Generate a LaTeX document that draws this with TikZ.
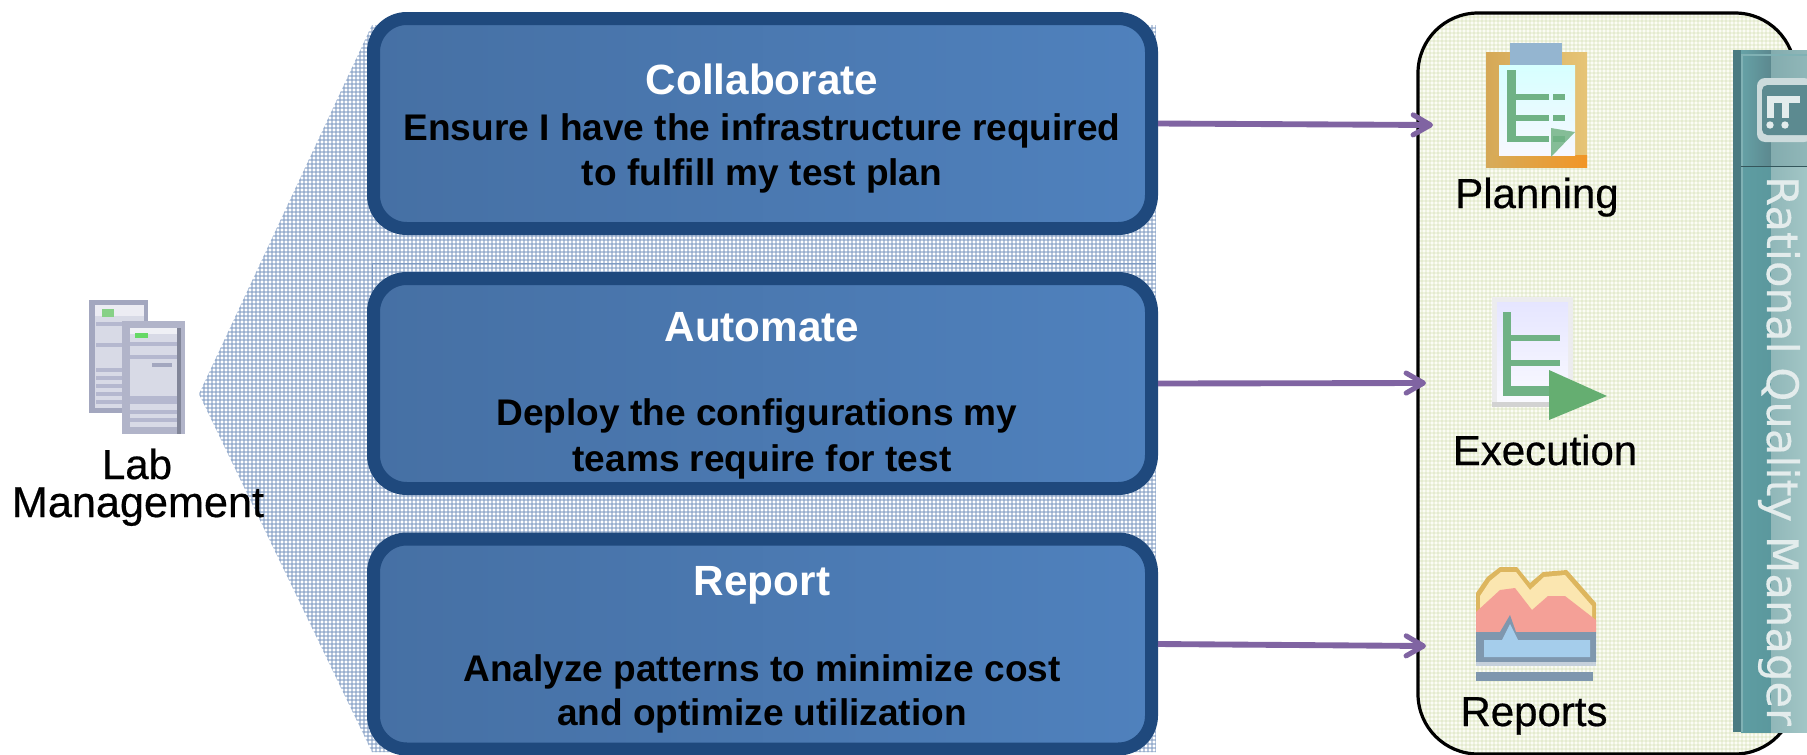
\documentclass[tikz,border=0pt]{standalone}
\usepackage{fontspec}
\setmainfont{Liberation Sans}
\newfontfamily\pixelfont[FakeBold=0.5]{Liberation Sans}
\newfontfamily\barfont[FakeBold=0.3]{DejaVu Sans}
\usetikzlibrary{arrows.meta}
\definecolor{boxedge}{HTML}{1F497D}
\definecolor{boxleft}{HTML}{4670A4}
\definecolor{boxright}{HTML}{4F81BD}
\definecolor{linkpurple}{HTML}{8064A2}
\definecolor{hatchblue}{HTML}{7F9BC2}
\definecolor{hatchgreen}{HTML}{C9D8A0}
\definecolor{panelbase}{HTML}{FBFCF5}
\definecolor{barDark}{HTML}{4A7B82}
\definecolor{barMid}{HTML}{5E9DA2}
\definecolor{barLight}{HTML}{A2C6C6}
\definecolor{barGlyph}{HTML}{E3ECEC}
\definecolor{treeGreen}{HTML}{70B285}
\definecolor{srvFrame}{HTML}{A3A7BF}
\definecolor{srvFace}{HTML}{D8DAE6}
\definecolor{srvStripe}{HTML}{B5B8CF}
\definecolor{chartGold}{HTML}{DDB65E}
\definecolor{chartCream}{HTML}{FBE6B0}
\definecolor{chartPink}{HTML}{F4A097}
\definecolor{chartRim}{HTML}{7F97AE}
\definecolor{chartBlue}{HTML}{A5CDEB}
\tikzset{every picture/.style={line width=0.75pt}}
\tikzset{
  taskbox/.style={draw=boxedge,line width=9.75pt,left color=boxleft,right color=boxright,rounded corners=25pt,minimum width=583.5pt,minimum height=157.5pt,inner sep=0pt},
  titletext/.style={anchor=base,inner sep=0pt,text=white,font=\fontsize{31.7pt}{36pt}\selectfont\bfseries},
  bodytext/.style={anchor=base,inner sep=0pt,text=black,font=\fontsize{27.8pt}{32pt}\selectfont\bfseries},
  icontext/.style={anchor=base,inner sep=0pt,text=black,font=\fontsize{31.5pt}{36pt}\selectfont\pixelfont},
  link/.style={draw=linkpurple,line width=4.4pt,-{Straight Barb[length=13pt,width=15pt,line width=3.8pt,round]}}
}

\begin{document}
\begin{tikzpicture}[x=0.75pt,y=0.75pt,yscale=-1,xscale=1]
\useasboundingbox (0,0) rectangle (1807,754);

%Shape: hatched fan behind the boxes
\begin{scope}
\clip (199,394) -- (372,25) -- (1156,25) -- (1156,752) -- (372,752) -- cycle;
\foreach \hx in {200,204,...,1156} \draw[hatchblue,opacity=0.55,line width=0.8pt] (\hx,20) -- (\hx,754);
\foreach \hy in {24,28,...,752} \draw[hatchblue,opacity=0.55,line width=0.8pt] (195,\hy) -- (1156,\hy);
\draw[hatchblue] (372,263) -- (1156,263);
\draw[hatchblue] (372,263) -- (372,540);
\end{scope}

%Shape: three task boxes
\draw (762.5,123.5) node [taskbox] (collabBox) {};
\draw (762.5,383.5) node [taskbox] (automateBox) {};
\draw (762.5,644) node [taskbox] (reportBox) {};

%Shape: tools panel
\begin{scope}
\clip[rounded corners=45pt] (1418,13) rectangle (1795,754);
\fill[panelbase] (1418,13) rectangle (1795,754);
\foreach \hx in {1418,1422,...,1795} \draw[hatchgreen,opacity=0.25,line width=0.8pt] (\hx,13) -- (\hx,754);
\foreach \hy in {13,17,...,754} \draw[hatchgreen,opacity=0.25,line width=0.8pt] (1418,\hy) -- (1795,\hy);
\end{scope}
\draw (1606.5,383.5) node [draw=black,line width=2.4pt,rounded corners=45pt,minimum width=377*0.75pt,minimum height=741*0.75pt,inner sep=0pt] (toolPanel) {};

%Shape: teal side bar
\fill[left color=barMid,right color=barMid!85!barDark] (1741,50) rectangle (1771,732);
\fill[left color=barLight!80!barDark,right color=barLight] (1771,50) rectangle (1807,732);
\fill[left color=barMid!95!white,right color=barDark!90!white] (1741,50) rectangle (1771,166);
\fill[left color=barLight!65!barDark,right color=barLight!80!barDark] (1771,50) rectangle (1807,166);
\fill[barDark] (1733,50) rectangle (1741,732);
\fill[barLight!50!barMid] (1741,54) rectangle (1743,732);
\fill[barLight!50!barMid] (1741,54) rectangle (1807,56);
\draw[barDark!70!black] (1741,166) -- (1807,166);
\fill[barGlyph!85!barDark,rounded corners=6pt] (1757,78) rectangle (1812,142);
\fill[barDark!80!barLight,rounded corners=4pt] (1762,85) rectangle (1812,135);
\fill[barGlyph] (1767,96) rectangle (1800,103);
\fill[barGlyph] (1767,103) rectangle (1774,118);
\fill[barGlyph] (1782,103) rectangle (1789,118);
\fill[barGlyph] (1770,125) circle (3.7);
\fill[barGlyph] (1785,125) circle (3.7);

%Shape: lab servers
\fill[srvFrame] (89,300) rectangle (148,413);
\fill[srvFace] (95,305) rectangle (144,408);
\fill[srvFace!50!white] (95,305) rectangle (144,316);
\fill[green!45!gray!65!white] (102,309) rectangle (114,317);
\foreach \sy in {322,343,368,376,384,392,400} \fill[srvStripe] (96,\sy) rectangle (142,\sy+4);
\fill[srvFrame!85!white] (122,321) rectangle (185,434);
\fill[srvFace] (130,328) rectangle (177,427);
\fill[srvFace!40!white] (130,328) rectangle (177,334);
\fill[green!60!gray!75!white] (135,333) rectangle (148,338);
\foreach \sy in {342,355,396,400,410,418} \fill[srvStripe] (130,\sy) rectangle (177,\sy+4);
\fill[srvFrame] (152,363) rectangle (172,367);
\fill[srvFrame!80!black] (177,328) rectangle (181,434);

%Shape: planning icon
\fill[left color=chartGold!75!brown,right color=chartGold!70!chartCream] (1486,52) rectangle (1587,167);
\fill[left color=chartGold!80!brown,right color=orange!60!chartGold] (1490,155) rectangle (1587,167);
\fill[chartBlue!55!chartRim] (1510,43) rectangle (1562,65);
\fill[top color=cyan!16!white,bottom color=blue!3!white] (1499,65) rectangle (1575,155);
\fill[treeGreen!85!white] (1551,128) -- (1575,132) -- (1551,157) -- cycle;
\fill[treeGreen] (1507,70) rectangle (1516,142);
\foreach \sy in {94,115,136} {
  \fill[treeGreen] (1516,\sy) rectangle (1549,\sy+6);
  \fill[treeGreen] (1553,\sy) rectangle (1565,\sy+6);
}

%Shape: execution icon
\fill[blue!4!gray!14!white] (1492,297) rectangle (1573,407);
\fill[top color=blue!10!white,bottom color=blue!2!white] (1497,302) rectangle (1568,402);
\fill[treeGreen] (1503,312) rectangle (1511,396);
\fill[treeGreen] (1511,335) rectangle (1560,341);
\fill[treeGreen] (1511,360) rectangle (1560,366);
\fill[treeGreen] (1511,386) rectangle (1552,396);
\fill[gray!35!white] (1492,402) rectangle (1550,407);
\fill[treeGreen!80!green!70!gray] (1549,370) -- (1607,396) -- (1549,420) -- cycle;

%Shape: reports icon
\fill[chartGold] (1476,593) -- (1487,577) -- (1500,567) -- (1517,567) -- (1530,583) -- (1543,572) -- (1567,570) -- (1596,603) -- (1596,632) -- (1476,632) -- cycle;
\fill[chartCream] (1480,596) -- (1490,581) -- (1501,572) -- (1516,572) -- (1530,590) -- (1544,577) -- (1565,575) -- (1592,606) -- (1592,632) -- (1480,632) -- cycle;
\fill[chartPink] (1476,612) -- (1500,590) -- (1515,588) -- (1532,610) -- (1548,596) -- (1565,596) -- (1596,620) -- (1596,632) -- (1476,632) -- cycle;
\fill[chartRim] (1476,632) -- (1476,662) -- (1596,662) -- (1596,632) -- (1516,632) -- (1510,615) -- (1500,632) -- cycle;
\fill[chartBlue] (1484,640) -- (1502,640) -- (1510,624) -- (1518,640) -- (1590,640) -- (1590,657) -- (1484,657) -- cycle;
\fill[chartRim!45!white] (1476,662) rectangle (1596,666);
\fill[chartRim] (1476,672) rectangle (1593,681);

% Text Node
\draw (762,94) node [titletext] (collabTitle) {Collaborate};
% Text Node
\draw (762,140) node [bodytext] (collabLineA) {Ensure I have the infrastructure required};
% Text Node
\draw (762,185) node [bodytext] (collabLineB) {to fulfill my test plan};
% Text Node
\draw (762,341) node [titletext] (automateTitle) {Automate};
% Text Node
\draw (757,425) node [bodytext] (automateLineA) {Deploy the configurations my};
% Text Node
\draw (762,471) node [bodytext] (automateLineB) {teams require for test};
% Text Node
\draw (762,595) node [titletext] (reportTitle) {Report};
% Text Node
\draw (762,681) node [bodytext] (reportLineA) {Analyze patterns to minimize cost};
% Text Node
\draw (762,725) node [bodytext] (reportLineB) {and optimize utilization};
% Text Node
\draw (137,479) node [icontext] (labLineA) {Lab};
% Text Node
\draw (138,517) node [icontext,font=\fontsize{32.4pt}{36pt}\selectfont\pixelfont] (labLineB) {Management};
% Text Node
\draw (1537,208) node [icontext] (planLabel) {Planning};
% Text Node
\draw (1545,465) node [icontext] (execLabel) {Execution};
% Text Node
\draw (1534,726) node [icontext] (reportsLabel) {Reports};
% Text Node
\draw (1767,451) node [rotate=-90,anchor=base,inner sep=0pt,text=barGlyph,font=\fontsize{32.5pt}{36pt}\selectfont\barfont] (rqmLabel) {Rational Quality Manager};

%Straight Lines
\coordinate (planTip) at (1433,125);
\coordinate (execTip) at (1426,383);
\coordinate (reportsTip) at (1426,646);
\draw [link] (collabBox.east) -- (planTip);
\draw [link] (automateBox.east) -- (execTip);
\draw [link] (reportBox.east) -- (reportsTip);

\end{tikzpicture}
\end{document}
